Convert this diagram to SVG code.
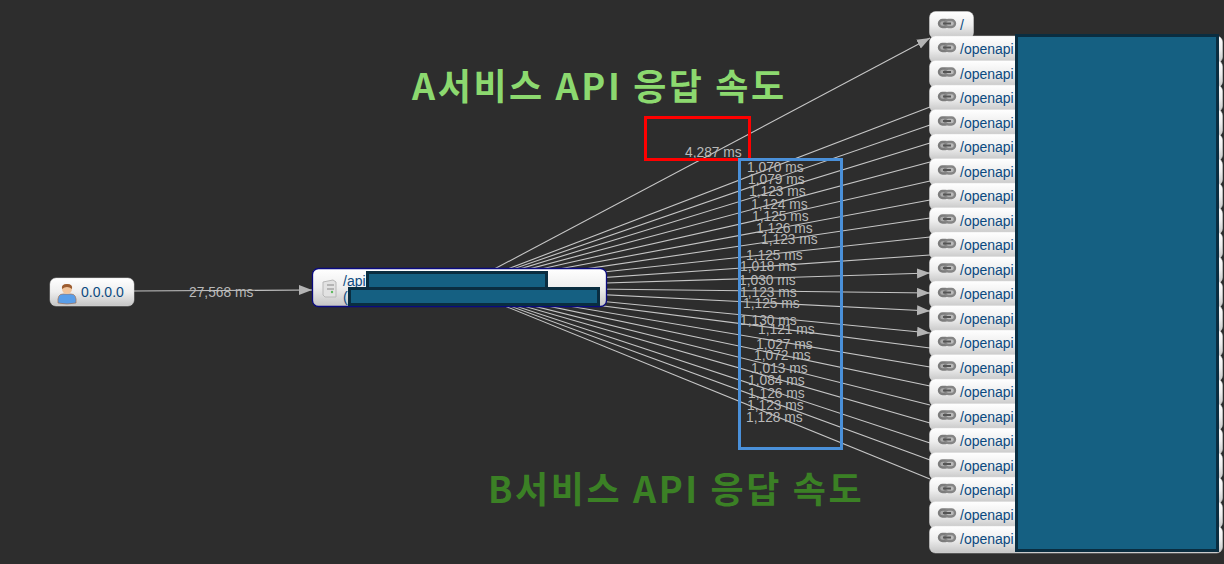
<svg xmlns="http://www.w3.org/2000/svg" xmlns:xlink="http://www.w3.org/1999/xlink" width="1224" height="564" viewBox="0 0 1224 564">
<style>
.n{fill:url(#g);stroke:#d8d8d8;stroke-width:.5}
.t{font:14px "Liberation Sans","Noto Sans",sans-serif;fill:#0b4a80}
.e{stroke:#c6c6c6;stroke-width:1.1;fill:none}
.a{marker-end:url(#ar)}
.l{font:13.8px "Liberation Sans",sans-serif;fill:#b9b9b9}
.h{font-family:"Noto Sans CJK KR","Noto Sans",sans-serif;font-weight:700;font-size:36px;letter-spacing:2.6px}
.r{fill:#156082;stroke:#0a2d40;stroke-width:3}
</style>
<defs>
<linearGradient id="g" x1="0" y1="0" x2="0" y2="1"><stop offset="0" stop-color="#fff"/><stop offset=".5" stop-color="#eee"/><stop offset="1" stop-color="#c4c4c4"/></linearGradient>
<marker id="ar" markerUnits="userSpaceOnUse" markerWidth="14" markerHeight="12" refX="13" refY="5" orient="auto"><path d="M0 0L13 5L0 10Z" fill="#b4b4b4"/></marker>
<g id="lk"><rect x="0" y="0" width="10" height="7" rx="3.5" fill="#aaa" stroke="#7c7c7c" stroke-width="2.4"/><rect x="6" y="0" width="10" height="7" rx="3.500" fill="#bbb" stroke="#858585" stroke-width="2.4"/><rect x="4" y="2.500" width="8" height="2" fill="#555"/></g>
</defs>
<rect width="1224" height="564" fill="#2d2d2d"/>
<g id="connectors">
<path class="e" d="M134 291L312 290" marker-end="url(#ar)"/>
<path class="e a" d="M459.500 287.500L930 38"/>
<path class="e" d="M459.500 287.500L930 107"/><path class="e" d="M459.500 287.500L930 125"/><path class="e" d="M459.500 287.500L930 143"/><path class="e" d="M459.500 287.500L930 162"/><path class="e" d="M459.500 287.500L930 181"/><path class="e" d="M459.500 287.500L930 200"/><path class="e" d="M459.500 287.500L930 218"/><path class="e" d="M459.500 287.500L930 237"/><path class="e" d="M459.500 287.500L930 255"/>
<path class="e a" d="M459.500 287.500L930 273"/><path class="e a" d="M459.500 287.500L930 293"/><path class="e a" d="M459.500 287.500L930 311"/><path class="e a" d="M459.500 287.500L930 333"/>
<path class="e" d="M459.500 287.500L930 348"/><path class="e" d="M459.500 287.500L930 367"/><path class="e" d="M459.500 287.500L930 386"/><path class="e" d="M459.500 287.500L930 405"/><path class="e" d="M459.500 287.500L930 423"/><path class="e" d="M459.500 287.500L930 443"/><path class="e" d="M459.500 287.500L930 460"/><path class="e" d="M459.500 287.500L930 479"/>
<text class="l" x="189" y="297">27,568 ms</text>
<text class="l" x="685" y="157">4,287 ms</text>
<text class="l" x="747" y="172">1,070 ms</text><text class="l" x="748" y="184">1,079 ms</text><text class="l" x="749" y="196">1,123 ms</text><text class="l" x="751" y="209">1,124 ms</text><text class="l" x="752" y="221">1,125 ms</text><text class="l" x="756" y="233">1,126 ms</text><text class="l" x="761" y="244">1,123 ms</text><text class="l" x="746" y="260">1,125 ms</text><text class="l" x="740" y="271">1,018 ms</text><text class="l" x="739" y="285">1,030 ms</text><text class="l" x="740" y="297">1,123 ms</text><text class="l" x="743" y="308">1,125 ms</text><text class="l" x="740" y="325">1,130 ms</text><text class="l" x="758" y="334">1,121 ms</text><text class="l" x="756" y="349">1,027 ms</text><text class="l" x="754" y="360">1,072 ms</text><text class="l" x="751" y="373">1,013 ms</text><text class="l" x="748" y="385">1,084 ms</text><text class="l" x="748" y="398">1,126 ms</text><text class="l" x="747" y="410">1,123 ms</text><text class="l" x="746" y="422">1,128 ms</text>
</g>
<g id="node-user"><rect class="n" x="50" y="278" width="84" height="28" rx="6"/>
<path d="M58 303Q57 294 63 294L71 294Q77 294 76 303Q67 305 58 303Z" fill="#5a9ee8" stroke="#a8673c" stroke-width=".6"/><circle cx="67" cy="289" r="5" fill="#f0c49c"/><path d="M62 289Q61 284 67 284Q73 284 72 289Q67 285 62 289Z" fill="#9c5c30"/><text class="t" x="81" y="297">0.0.0.0</text></g>
<g id="node-api"><rect x="312.500" y="268.500" width="294" height="38" rx="6" fill="url(#g)" stroke="#0a0a80" stroke-width="1.300"/>
<path d="M323 282L333 280L336 282L336 297L325 297L323 295Z" fill="#e2e2e2" stroke="#b8b8b8"/><rect x="327" y="284" width="7" height="2" fill="#b5b5b5"/><rect x="327" y="288" width="7" height="2" fill="#b5b5b5"/><circle cx="332" cy="292" r="1.200" fill="#5cb85c"/>
<text class="t" x="343" y="286">/api</text><text class="t" x="343" y="302">(</text>
<rect class="r" x="367.500" y="272.500" width="179" height="17"/><rect class="r" x="349.500" y="288.500" width="249" height="16"/></g>
<g id="node-root"><rect class="n" x="929.500" y="11.500" width="44" height="27" rx="6"/><use xlink:href="#lk" href="#lk" x="939" y="20"/><text class="t" x="960" y="30">/</text></g>
<g id="node-1"><rect class="n" x="929.500" y="36" width="293" height="27" rx="6"/><use href="#lk" x="939" y="44"/><text class="t" x="960" y="54">/openapi</text></g>
<g id="node-2"><rect class="n" x="929.500" y="60.500" width="293" height="27" rx="6"/><use href="#lk" x="939" y="68.500"/><text class="t" x="960" y="78.500">/openapi</text></g>
<g id="node-3"><rect class="n" x="929.500" y="85" width="293" height="27" rx="6"/><use href="#lk" x="939" y="93"/><text class="t" x="960" y="103">/openapi</text></g>
<g id="node-4"><rect class="n" x="929.500" y="109.500" width="293" height="27" rx="6"/><use href="#lk" x="939" y="117.500"/><text class="t" x="960" y="127.500">/openapi</text></g>
<g id="node-5"><rect class="n" x="929.500" y="134" width="293" height="27" rx="6"/><use href="#lk" x="939" y="142"/><text class="t" x="960" y="152">/openapi</text></g>
<g id="node-6"><rect class="n" x="929.500" y="158.500" width="293" height="27" rx="6"/><use href="#lk" x="939" y="166.500"/><text class="t" x="960" y="176.500">/openapi</text></g>
<g id="node-7"><rect class="n" x="929.500" y="183" width="293" height="27" rx="6"/><use href="#lk" x="939" y="191"/><text class="t" x="960" y="201">/openapi</text></g>
<g id="node-8"><rect class="n" x="929.500" y="207.500" width="293" height="27" rx="6"/><use href="#lk" x="939" y="215.500"/><text class="t" x="960" y="225.500">/openapi</text></g>
<g id="node-9"><rect class="n" x="929.500" y="232" width="293" height="27" rx="6"/><use href="#lk" x="939" y="240"/><text class="t" x="960" y="250">/openapi</text></g>
<g id="node-10"><rect class="n" x="929.500" y="256.500" width="293" height="27" rx="6"/><use href="#lk" x="939" y="264.500"/><text class="t" x="960" y="274.500">/openapi</text></g>
<g id="node-11"><rect class="n" x="929.500" y="281" width="293" height="27" rx="6"/><use href="#lk" x="939" y="289"/><text class="t" x="960" y="299">/openapi</text></g>
<g id="node-12"><rect class="n" x="929.500" y="305.500" width="293" height="27" rx="6"/><use href="#lk" x="939" y="313.500"/><text class="t" x="960" y="323.500">/openapi</text></g>
<g id="node-13"><rect class="n" x="929.500" y="330" width="293" height="27" rx="6"/><use href="#lk" x="939" y="338"/><text class="t" x="960" y="348">/openapi</text></g>
<g id="node-14"><rect class="n" x="929.500" y="354.500" width="293" height="27" rx="6"/><use href="#lk" x="939" y="362.500"/><text class="t" x="960" y="372.500">/openapi</text></g>
<g id="node-15"><rect class="n" x="929.500" y="379" width="293" height="27" rx="6"/><use href="#lk" x="939" y="387"/><text class="t" x="960" y="397">/openapi</text></g>
<g id="node-16"><rect class="n" x="929.500" y="403.500" width="293" height="27" rx="6"/><use href="#lk" x="939" y="411.500"/><text class="t" x="960" y="421.500">/openapi</text></g>
<g id="node-17"><rect class="n" x="929.500" y="428" width="293" height="27" rx="6"/><use href="#lk" x="939" y="436"/><text class="t" x="960" y="446">/openapi</text></g>
<g id="node-18"><rect class="n" x="929.500" y="452.500" width="293" height="27" rx="6"/><use href="#lk" x="939" y="460.500"/><text class="t" x="960" y="470.500">/openapi</text></g>
<g id="node-19"><rect class="n" x="929.500" y="477" width="293" height="27" rx="6"/><use href="#lk" x="939" y="485"/><text class="t" x="960" y="495">/openapi</text></g>
<g id="node-20"><rect class="n" x="929.500" y="501.500" width="293" height="27" rx="6"/><use href="#lk" x="939" y="509.500"/><text class="t" x="960" y="519.500">/openapi</text></g>
<g id="node-21"><rect class="n" x="929.500" y="526" width="293" height="27" rx="6"/><use href="#lk" x="939" y="534"/><text class="t" x="960" y="544">/openapi</text></g>
<rect class="r" x="1016.500" y="35.500" width="201" height="515"/>
<rect x="645.500" y="117.500" width="104" height="42" fill="none" stroke="#f00" stroke-width="3"/>
<rect x="739.500" y="159.500" width="102" height="289" fill="none" stroke="#4a90d9" stroke-width="3"/>
<text class="h" x="412" y="100" fill="#8cd96f">A서비스 API 응답 속도</text>
<text class="h" x="488" y="503" fill="#3b8025">B서비스 API 응답 속도</text>
</svg>
